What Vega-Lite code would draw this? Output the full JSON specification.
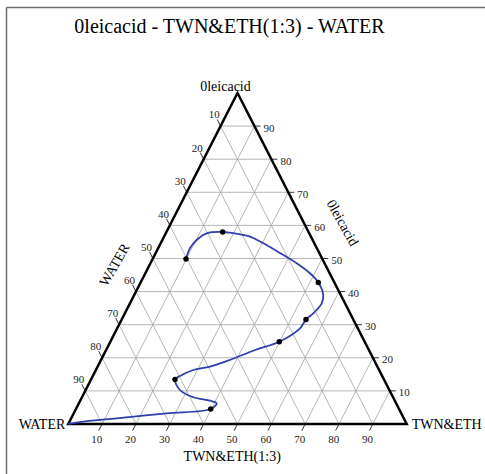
{
  "$schema": "https://vega.github.io/schema/vega-lite/v6.json",
  "width": 479,
  "height": 467,
  "padding": {"left": 6, "top": 7, "right": 0, "bottom": 0},
  "autosize": {"type": "none"},
  "background": "white",
  "title": {
    "text": "0leicacid - TWN&ETH(1:3) - WATER",
    "font": "Liberation Serif",
    "fontSize": 20,
    "fontWeight": "normal",
    "color": "black",
    "anchor": "middle",
    "frame": "group",
    "offset": 0,
    "baseline": "alphabetic",
    "dy": 46,
    "dx": -16
  },
  "config": {"view": {"stroke": null}, "font": "Liberation Serif"},
  "datasets": {
    "grid": [
      {"x": 5, "y": 10, "x2": 95, "y2": 10},
      {"x": 10, "y": 20, "x2": 90, "y2": 20},
      {"x": 15, "y": 30, "x2": 85, "y2": 30},
      {"x": 20, "y": 40, "x2": 80, "y2": 40},
      {"x": 25, "y": 50, "x2": 75, "y2": 50},
      {"x": 30, "y": 60, "x2": 70, "y2": 60},
      {"x": 35, "y": 70, "x2": 65, "y2": 70},
      {"x": 40, "y": 80, "x2": 60, "y2": 80},
      {"x": 45, "y": 90, "x2": 55, "y2": 90},
      {"x": 10, "y": 0, "x2": 55, "y2": 90},
      {"x": 20, "y": 0, "x2": 60, "y2": 80},
      {"x": 30, "y": 0, "x2": 65, "y2": 70},
      {"x": 40, "y": 0, "x2": 70, "y2": 60},
      {"x": 50, "y": 0, "x2": 75, "y2": 50},
      {"x": 60, "y": 0, "x2": 80, "y2": 40},
      {"x": 70, "y": 0, "x2": 85, "y2": 30},
      {"x": 80, "y": 0, "x2": 90, "y2": 20},
      {"x": 90, "y": 0, "x2": 95, "y2": 10},
      {"x": 90, "y": 0, "x2": 45, "y2": 90},
      {"x": 80, "y": 0, "x2": 40, "y2": 80},
      {"x": 70, "y": 0, "x2": 35, "y2": 70},
      {"x": 60, "y": 0, "x2": 30, "y2": 60},
      {"x": 50, "y": 0, "x2": 25, "y2": 50},
      {"x": 40, "y": 0, "x2": 20, "y2": 40},
      {"x": 30, "y": 0, "x2": 15, "y2": 30},
      {"x": 20, "y": 0, "x2": 10, "y2": 20},
      {"x": 10, "y": 0, "x2": 5, "y2": 10}
    ],
    "ticks": [
      {"axis": "right", "label": "10", "x": 96.8, "y": 10, "x2": 95, "y2": 10},
      {"axis": "right", "label": "20", "x": 91.8, "y": 20, "x2": 90, "y2": 20},
      {"axis": "right", "label": "30", "x": 86.8, "y": 30, "x2": 85, "y2": 30},
      {"axis": "right", "label": "40", "x": 81.8, "y": 40, "x2": 80, "y2": 40},
      {"axis": "right", "label": "50", "x": 76.8, "y": 50, "x2": 75, "y2": 50},
      {"axis": "right", "label": "60", "x": 71.8, "y": 60, "x2": 70, "y2": 60},
      {"axis": "right", "label": "70", "x": 66.8, "y": 70, "x2": 65, "y2": 70},
      {"axis": "right", "label": "80", "x": 61.8, "y": 80, "x2": 60, "y2": 80},
      {"axis": "right", "label": "90", "x": 56.8, "y": 90, "x2": 55, "y2": 90},
      {"axis": "left", "label": "10", "x": 44, "y": 92, "x2": 45, "y2": 90},
      {"axis": "left", "label": "20", "x": 39, "y": 82, "x2": 40, "y2": 80},
      {"axis": "left", "label": "30", "x": 34, "y": 72, "x2": 35, "y2": 70},
      {"axis": "left", "label": "40", "x": 29, "y": 62, "x2": 30, "y2": 60},
      {"axis": "left", "label": "50", "x": 24, "y": 52, "x2": 25, "y2": 50},
      {"axis": "left", "label": "60", "x": 19, "y": 42, "x2": 20, "y2": 40},
      {"axis": "left", "label": "70", "x": 14, "y": 32, "x2": 15, "y2": 30},
      {"axis": "left", "label": "80", "x": 9, "y": 22, "x2": 10, "y2": 20},
      {"axis": "left", "label": "90", "x": 4, "y": 12, "x2": 5, "y2": 10},
      {"axis": "bottom", "label": "10", "x": 9, "y": -2, "x2": 10, "y2": 0},
      {"axis": "bottom", "label": "20", "x": 19, "y": -2, "x2": 20, "y2": 0},
      {"axis": "bottom", "label": "30", "x": 29, "y": -2, "x2": 30, "y2": 0},
      {"axis": "bottom", "label": "40", "x": 39, "y": -2, "x2": 40, "y2": 0},
      {"axis": "bottom", "label": "50", "x": 49, "y": -2, "x2": 50, "y2": 0},
      {"axis": "bottom", "label": "60", "x": 59, "y": -2, "x2": 60, "y2": 0},
      {"axis": "bottom", "label": "70", "x": 69, "y": -2, "x2": 70, "y2": 0},
      {"axis": "bottom", "label": "80", "x": 79, "y": -2, "x2": 80, "y2": 0},
      {"axis": "bottom", "label": "90", "x": 89, "y": -2, "x2": 90, "y2": 0}
    ],
    "frame": [
      {"i": 0, "x": 0, "y": 0},
      {"i": 1, "x": 100, "y": 0},
      {"i": 2, "x": 50, "y": 100},
      {"i": 3, "x": 0, "y": 0},
      {"i": 4, "x": 100, "y": 0}
    ],
    "curve": [
      {"i": 0, "x": 0, "y": 0},
      {"i": 1, "x": 4.43, "y": 0.69},
      {"i": 2, "x": 14.3, "y": 1.72},
      {"i": 3, "x": 29.08, "y": 3.23},
      {"i": 4, "x": 42.08, "y": 4.53},
      {"i": 5, "x": 43.85, "y": 6.25},
      {"i": 6, "x": 41.87, "y": 7.04},
      {"i": 7, "x": 36.94, "y": 8.07},
      {"i": 8, "x": 33.01, "y": 10.27},
      {"i": 9, "x": 31.53, "y": 13.44},
      {"i": 10, "x": 33.01, "y": 14.5},
      {"i": 11, "x": 36.94, "y": 16.31},
      {"i": 12, "x": 41.87, "y": 17.31},
      {"i": 13, "x": 47.78, "y": 19.34},
      {"i": 14, "x": 55.17, "y": 22.36},
      {"i": 15, "x": 62.35, "y": 24.86},
      {"i": 16, "x": 68.47, "y": 28.91},
      {"i": 17, "x": 70.24, "y": 31.57},
      {"i": 18, "x": 72.4, "y": 33.44},
      {"i": 19, "x": 74.88, "y": 36.47},
      {"i": 20, "x": 75.35, "y": 38.97},
      {"i": 21, "x": 73.88, "y": 42.75},
      {"i": 22, "x": 71.42, "y": 45.53},
      {"i": 23, "x": 67.49, "y": 48.55},
      {"i": 24, "x": 62.56, "y": 51.66},
      {"i": 25, "x": 57.62, "y": 54.59},
      {"i": 26, "x": 53.69, "y": 56.59},
      {"i": 27, "x": 47.78, "y": 57.79},
      {"i": 28, "x": 45.63, "y": 58.01},
      {"i": 29, "x": 40.9, "y": 57.61},
      {"i": 30, "x": 37.94, "y": 55.59},
      {"i": 31, "x": 35.96, "y": 53.08},
      {"i": 32, "x": 34.78, "y": 49.85}
    ],
    "points": [
      {"x": 42.08, "y": 4.53},
      {"x": 31.53, "y": 13.44},
      {"x": 62.35, "y": 24.86},
      {"x": 70.24, "y": 31.57},
      {"x": 73.88, "y": 42.75},
      {"x": 45.63, "y": 58.01},
      {"x": 34.78, "y": 49.85}
    ],
    "vertices": [
      {"pos": "top", "name": "0leicacid", "x": 50, "y": 100},
      {"pos": "left", "name": "WATER", "x": 0, "y": 0},
      {"pos": "right", "name": "TWN&ETH", "x": 100, "y": 0},
      {"pos": "bottom", "name": "TWN&ETH(1:3)", "x": 50, "y": 0}
    ],
    "sides": [
      {"side": "left", "name": "WATER", "x": 13.8, "y": 48.0},
      {"side": "right", "name": "0leicacid", "x": 80.9, "y": 60.7}
    ]
  },
  "encoding": {
    "x": {
      "field": "x",
      "type": "quantitative",
      "scale": {"domain": [-18.41, 123.14], "nice": false, "zero": false},
      "axis": {"orient": "top", "domain": true, "domainColor": "#6e6e6e", "domainWidth": 1.5, "ticks": false, "labels": false, "grid": false, "title": null}
    },
    "y": {
      "field": "y",
      "type": "quantitative",
      "scale": {"domain": [-15.11, 125.98], "nice": false, "zero": false},
      "axis": {"orient": "left", "domain": true, "domainColor": "#6e6e6e", "domainWidth": 1.5, "ticks": false, "labels": false, "grid": false, "title": null}
    }
  },
  "layer": [
    {
      "data": {"name": "grid"},
      "mark": {"type": "rule", "color": "#a3a3a3", "strokeWidth": 0.8},
      "encoding": {"x2": {"field": "x2"}, "y2": {"field": "y2"}}
    },
    {
      "data": {"name": "ticks"},
      "mark": {"type": "rule", "color": "#333333", "strokeWidth": 1},
      "encoding": {"x2": {"field": "x2"}, "y2": {"field": "y2"}}
    },
    {
      "data": {"name": "frame"},
      "mark": {"type": "line", "color": "black", "strokeWidth": 2.5, "strokeJoin": "miter", "interpolate": "linear"},
      "encoding": {"order": {"field": "i", "type": "quantitative"}}
    },
    {
      "data": {"name": "curve"},
      "mark": {"type": "line", "color": "#2f3fae", "strokeWidth": 1.8, "interpolate": "catmull-rom"},
      "encoding": {"order": {"field": "i", "type": "quantitative"}}
    },
    {
      "data": {"name": "points"},
      "mark": {"type": "point", "filled": true, "color": "black", "size": 30, "opacity": 1}
    },
    {
      "data": {"name": "ticks"},
      "transform": [{"filter": "datum.axis == 'right'"}],
      "mark": {"type": "text", "font": "Liberation Serif", "fontSize": 11, "align": "left", "baseline": "alphabetic", "dx": 3, "dy": 5.5, "color": "#222222"},
      "encoding": {"text": {"field": "label"}}
    },
    {
      "data": {"name": "ticks"},
      "transform": [{"filter": "datum.axis == 'left'"}],
      "mark": {"type": "text", "font": "Liberation Serif", "fontSize": 11, "align": "center", "baseline": "alphabetic", "dx": -3, "dy": -1, "color": "#222222"},
      "encoding": {"text": {"field": "label"}}
    },
    {
      "data": {"name": "ticks"},
      "transform": [{"filter": "datum.axis == 'bottom'"}],
      "mark": {"type": "text", "font": "Liberation Serif", "fontSize": 11, "align": "center", "baseline": "alphabetic", "dx": -2, "dy": 12.5, "color": "#222222"},
      "encoding": {"text": {"field": "label"}}
    },
    {
      "data": {"name": "vertices"},
      "transform": [{"filter": "datum.pos == 'top'"}],
      "mark": {"type": "text", "font": "Liberation Serif", "fontSize": 14, "align": "center", "baseline": "alphabetic", "dx": -12, "dy": -1.5, "color": "black"},
      "encoding": {"text": {"field": "name"}}
    },
    {
      "data": {"name": "vertices"},
      "transform": [{"filter": "datum.pos == 'left'"}],
      "mark": {"type": "text", "font": "Liberation Serif", "fontSize": 14, "align": "right", "baseline": "alphabetic", "dx": -3, "dy": 5.3, "color": "black"},
      "encoding": {"text": {"field": "name"}}
    },
    {
      "data": {"name": "vertices"},
      "transform": [{"filter": "datum.pos == 'right'"}],
      "mark": {"type": "text", "font": "Liberation Serif", "fontSize": 14, "align": "left", "baseline": "alphabetic", "dx": 5, "dy": 5.3, "color": "black"},
      "encoding": {"text": {"field": "name"}}
    },
    {
      "data": {"name": "vertices"},
      "transform": [{"filter": "datum.pos == 'bottom'"}],
      "mark": {"type": "text", "font": "Liberation Serif", "fontSize": 14, "align": "center", "baseline": "alphabetic", "dx": -5.3, "dy": 37, "color": "black"},
      "encoding": {"text": {"field": "name"}}
    },
    {
      "data": {"name": "sides"},
      "transform": [{"filter": "datum.side == 'left'"}],
      "mark": {"type": "text", "font": "Liberation Serif", "fontSize": 14, "align": "center", "baseline": "middle", "angle": 300, "color": "black"},
      "encoding": {"text": {"field": "name"}}
    },
    {
      "data": {"name": "sides"},
      "transform": [{"filter": "datum.side == 'right'"}],
      "mark": {"type": "text", "font": "Liberation Serif", "fontSize": 14, "align": "center", "baseline": "middle", "angle": 61, "color": "black"},
      "encoding": {"text": {"field": "name"}}
    }
  ]
}
